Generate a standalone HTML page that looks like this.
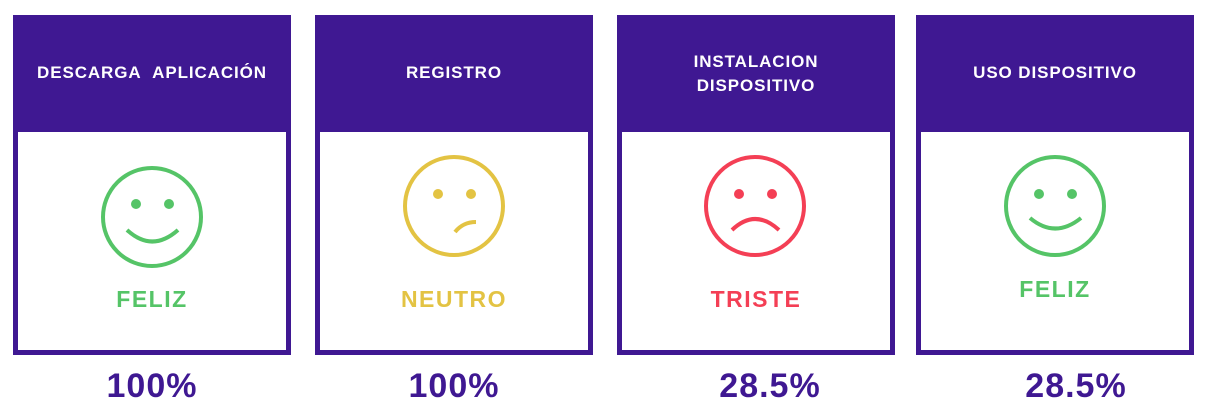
<!DOCTYPE html><html><head><style>
body{margin:0;width:1207px;height:416px;background:#fff;font-family:"Liberation Sans",sans-serif;position:relative;overflow:hidden}
.c{position:absolute;top:15px;width:278px;height:340px;background:#3f1892}
.w{position:absolute;left:5px;top:117px;width:268px;height:218px;background:#fff}
.h{position:absolute;left:0;width:100%;text-align:center;color:#fff;font-weight:bold;font-size:17px;letter-spacing:0.9px;line-height:24px}
.t{position:absolute;width:100%;text-align:center;font-weight:bold;font-size:23px;letter-spacing:1.5px}
.p{position:absolute;top:367px;font-weight:bold;font-size:34px;letter-spacing:1px;color:#3f1892;text-align:center;width:200px}
svg{position:absolute}
</style></head><body>
<div class="c" style="left:13px"><div class="h" style="top:46px">DESCARGA&nbsp; APLICACIÓN</div><div class="w"></div>
<svg style="left:88px;top:150px" width="102" height="104"><circle cx="51" cy="52" r="49" fill="none" stroke="#55c467" stroke-width="4"/><circle cx="35" cy="39" r="5" fill="#55c467"/><circle cx="68" cy="39" r="5" fill="#55c467"/><path d="M26 65 Q51 88 77 65" fill="none" stroke="#55c467" stroke-width="4"/></svg>
<div class="t" style="top:271px;color:#55c467">FELIZ</div></div>
<div class="c" style="left:315px"><div class="h" style="top:46px">REGISTRO</div><div class="w"></div>
<svg style="left:88px;top:139px" width="102" height="104"><circle cx="51" cy="52" r="49" fill="none" stroke="#e3c343" stroke-width="4"/><circle cx="35" cy="40" r="5" fill="#e3c343"/><circle cx="68" cy="40" r="5" fill="#e3c343"/><path d="M52 78 Q60 68 73 68" fill="none" stroke="#e3c343" stroke-width="4"/></svg>
<div class="t" style="top:271px;color:#e3c343">NEUTRO</div></div>
<div class="c" style="left:617px"><div class="h" style="top:35px">INSTALACION<br>DISPOSITIVO</div><div class="w"></div>
<svg style="left:87px;top:139px" width="102" height="104"><circle cx="51" cy="52" r="49" fill="none" stroke="#f43f55" stroke-width="4"/><circle cx="35" cy="40" r="5" fill="#f43f55"/><circle cx="68" cy="40" r="5" fill="#f43f55"/><path d="M28 76 Q51 54 75 76" fill="none" stroke="#f43f55" stroke-width="4"/></svg>
<div class="t" style="top:271px;color:#f43f55">TRISTE</div></div>
<div class="c" style="left:916px"><div class="h" style="top:46px">USO DISPOSITIVO</div><div class="w"></div>
<svg style="left:88px;top:139px" width="102" height="104"><circle cx="51" cy="52" r="49" fill="none" stroke="#55c467" stroke-width="4"/><circle cx="35" cy="40" r="5" fill="#55c467"/><circle cx="68" cy="40" r="5" fill="#55c467"/><path d="M26 64 Q51 85 77 64" fill="none" stroke="#55c467" stroke-width="4"/></svg>
<div class="t" style="top:261px;color:#55c467">FELIZ</div></div>
<div class="p" style="left:52px">100%</div>
<div class="p" style="left:354px">100%</div>
<div class="p" style="left:670px">28.5%</div>
<div class="p" style="left:976px">28.5%</div>
</body></html>
